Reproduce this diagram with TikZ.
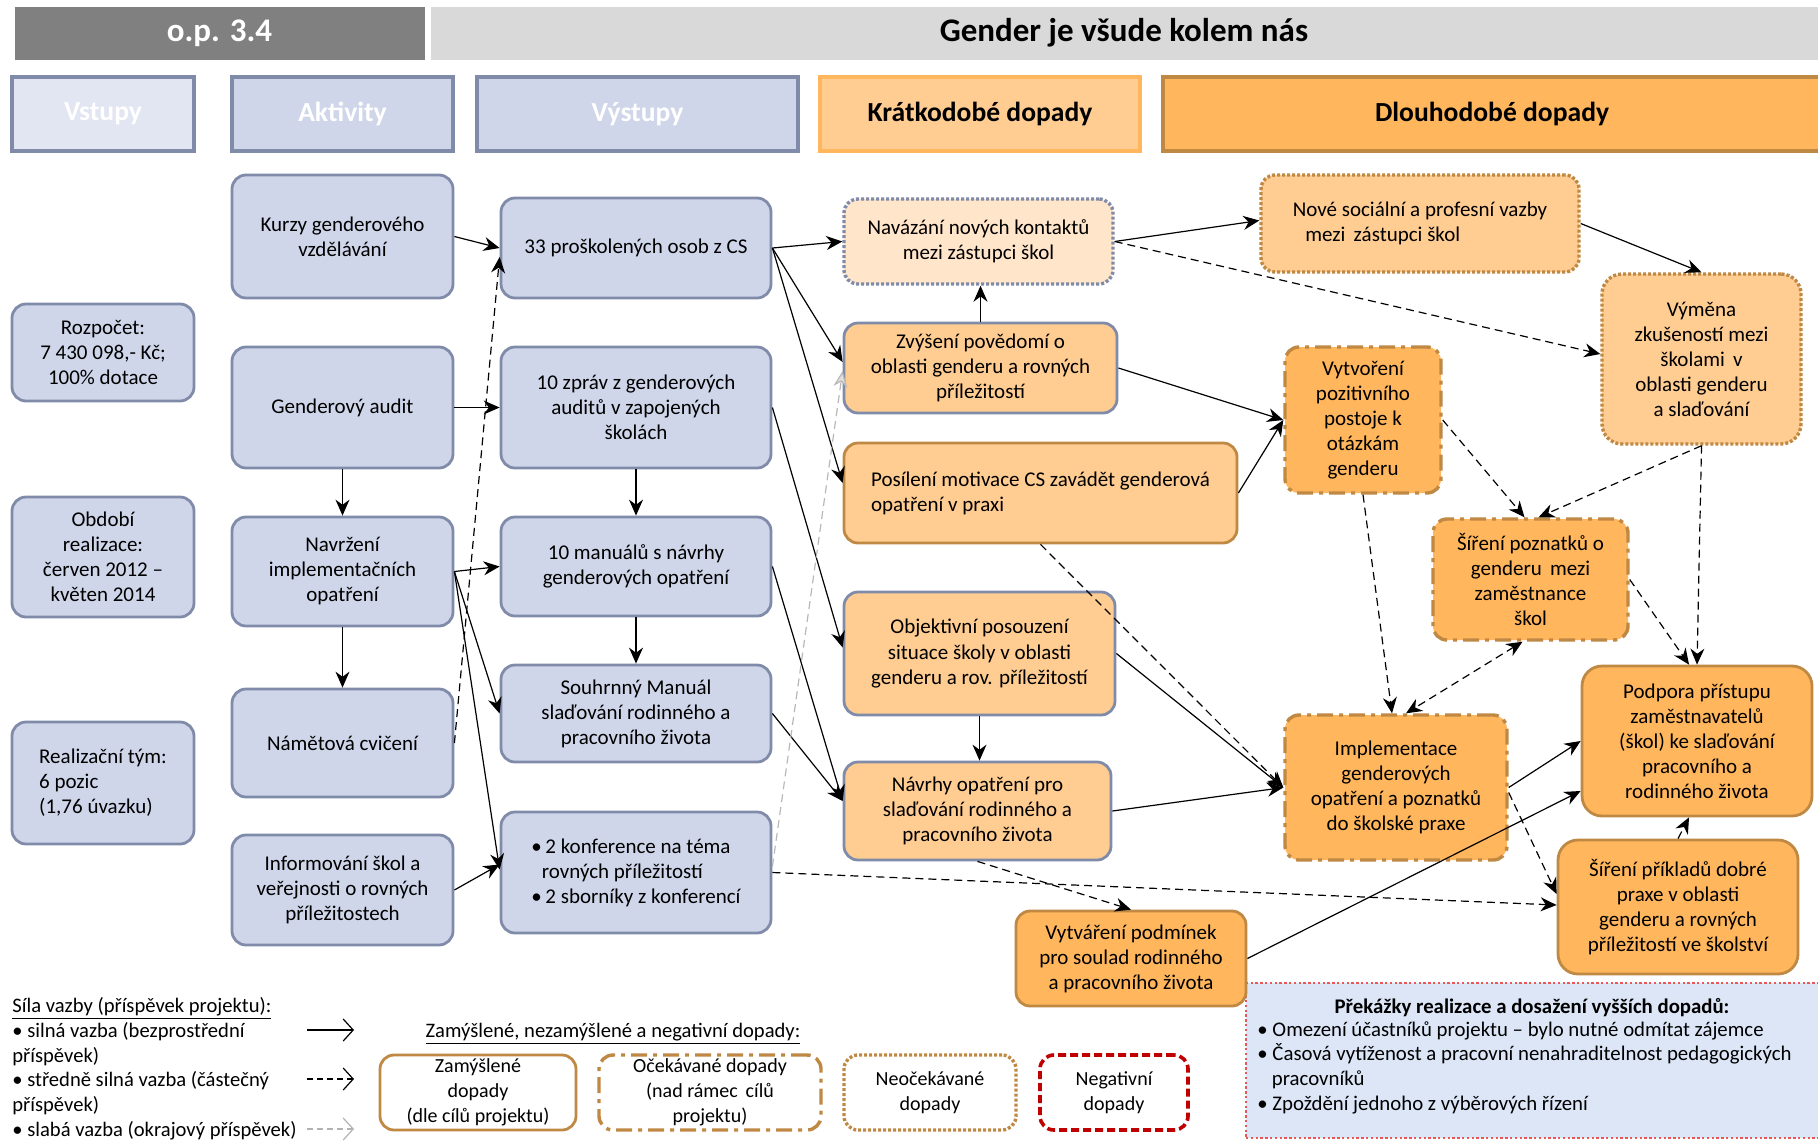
\documentclass[tikz,border=0pt]{standalone}
\usepackage{fontspec}
\setmainfont{Carlito}
\usetikzlibrary{arrows.meta,calc}

\definecolor{modrafill}{RGB}{208,214,234}
\definecolor{modrasvetla}{RGB}{226,230,243}
\definecolor{modraline}{RGB}{127,139,168}
\definecolor{oranzsvetla}{RGB}{255,204,146}
\definecolor{oranztmava}{RGB}{255,182,92}
\definecolor{oranzbleda}{RGB}{255,229,202}
\definecolor{hneda}{RGB}{191,137,68}
\definecolor{tmavasede}{RGB}{128,128,128}
\definecolor{svetlesede}{RGB}{217,217,217}
\definecolor{prekfill}{RGB}{220,230,247}
\definecolor{prekline}{RGB}{228,88,88}
\definecolor{negcervena}{RGB}{192,0,0}

\tikzset{
  rozmer/.style 2 args={minimum width=#1*0.5pt, minimum height=#2*0.5pt},
  hlava/.style={draw=white, line width=0.5pt, inner sep=0pt, font=\fontsize{16.5}{19}\selectfont\bfseries},
  sloupec/.style={draw, line width=1.6pt, inner sep=0pt, font=\fontsize{13.8}{16}\selectfont\bfseries},
  box/.style={draw, rounded corners=7pt, line width=1.4pt, align=center, inner sep=2pt,
    font=\fontsize{10.5}{12.5}\selectfont},
  modra/.style={box, fill=modrafill, draw=modraline},
  kratka/.style={box, fill=oranzsvetla, draw=modraline},
  zamysl/.style={box, draw=hneda},
  ocekav/.style={box, draw=hneda, line width=1.7pt, dash pattern=on 8pt off 3pt on 2pt off 3pt},
  neocek/.style={box, draw=hneda, line width=1.7pt, dash pattern=on 1.5pt off 1pt},
  silna/.style={-{Stealth[length=8pt,width=7pt]}, line width=0.6pt},
  stredni/.style={silna, dash pattern=on 4pt off 2.5pt},
  slaba/.style={stredni, draw=black!28, -{Stealth[length=8pt,width=7pt,fill=black!12]}},
  legsipka/.style={-{Straight Barb[length=5pt,width=11pt]}, line width=0.6pt},
  popis/.style={inner sep=0pt, align=left, font=\fontsize{10.3}{12.4}\selectfont}
}

\begin{document}
\begin{tikzpicture}[x=0.5pt,y=-0.5pt]
    \useasboundingbox (0,0) rectangle (1818,1141);
    % hlavicka
    \node[hlava, fill=tmavasede, text=white, rozmer={411}{54}] (op) at (219.5,33) {o.p. 3.4};
    \node[hlava, fill=svetlesede, rozmer={1388}{54}] (nazev) at (1124,33) {Gender je všude kolem nás};
    \node[sloupec, fill=modrasvetla, draw=modraline, text=white, rozmer={182}{74}] (vstupy) at (103,114) {Vstupy};
    \node[sloupec, fill=modrafill, draw=modraline, text=white, rozmer={221}{74}] (aktivity) at (342.5,114) {Aktivity};
    \node[sloupec, fill=modrafill, draw=modraline, text=white, rozmer={321}{74}] (vystupy) at (637.5,114) {Výstupy};
    \node[sloupec, fill=oranzsvetla, draw=oranztmava, rozmer={320}{74}] (kratko) at (980,114) {Krátkodobé dopady};
    \node[sloupec, fill=oranztmava, draw=hneda, rozmer={658}{74}] (dlouho) at (1492,114) {Dlouhodobé dopady};

    % vstupy
    \node[modra, rozmer={182}{97}] (rozpocet) at (103,352.5) {Rozpočet:\\7 430 098,- Kč;\\100\% dotace};
    \node[modra, rozmer={182}{120}] (obdobi) at (103,557) {Období\\realizace:\\červen 2012 –\\květen 2014};
    \node[modra, rozmer={182}{122}, align=left] (tym) at (103,783) {Realizační tým:\\6 pozic\\(1,76 úvazku)};

    % aktivity
    \node[modra, rozmer={221}{123}] (kurzy) at (342.5,236.5) {Kurzy genderového\\vzdělávání};
    \node[modra, rozmer={221}{121}] (audit) at (342.5,407.5) {Genderový audit};
    \node[modra, rozmer={221}{109}] (navrzeni) at (342.5,571.5) {Navržení\\implementačních\\opatření};
    \node[modra, rozmer={221}{108}] (namety) at (342.5,743) {Námětová cvičení};
    \node[modra, rozmer={221}{110}] (info) at (342.5,890) {Informování škol a\\veřejnosti o rovných\\příležitostech};

    % vystupy
    \node[modra, rozmer={270}{100}] (proskol) at (636,248) {33 proškolených osob z CS};
    \node[modra, rozmer={270}{121}] (zpravy) at (636,407.5) {10 zpráv z genderových\\auditů v zapojených\\školách};
    \node[modra, rozmer={270}{99}] (manualy) at (636,566.5) {10 manuálů s návrhy\\genderových opatření};
    \node[modra, rozmer={270}{97}] (souhrn) at (636,713.5) {Souhrnný Manuál\\slaďování rodinného a\\pracovního života};
    \node[modra, rozmer={270}{121}, align=left] (konf) at (636,872.5) {•\,2 konference na téma\\\hspace{0.5em}rovných příležitostí\\•\,2 sborníky z konferencí};

    % prekazky (pod ramecek vytvareni)
    \node[draw=prekline, fill=prekfill, line width=0.6pt, dash pattern=on 1.2pt off 1.2pt, rozmer={574}{155}, inner sep=0pt] (prekazky) at (1533,1060.5) {};
    \node[popis, font=\fontsize{10.4}{12.4}\selectfont\bfseries] (prektitul) at (1532,1008) {Překážky realizace a dosažení vyšších dopadů:};
    \node[popis, font=\fontsize{10.4}{12.4}\selectfont, anchor=north west] (prekseznam) at (1257,1021) {• Omezení účastníků projektu – bylo nutné odmítat zájemce\\• Časová vytíženost a pracovní nenahraditelnost pedagogických\\\hspace{0.7em}pracovníků\\• Zpoždění jednoho z výběrových řízení};

    % kratkodobe dopady
    \node[kratka, fill=oranzbleda, line width=1.7pt, dash pattern=on 1.5pt off 1pt, rozmer={269}{85}] (navazani) at (978.5,241.5) {Navázání nových kontaktů\\mezi zástupci škol};
    \node[kratka, rozmer={273}{90}] (zvyseni) at (980.5,368) {Zvýšení povědomí o\\oblasti genderu a rovných\\příležitostí};
    \node[zamysl, fill=oranzsvetla, rozmer={393}{100}, align=left] (posileni) at (1040.5,493) {Posílení motivace CS zavádět genderová\\opatření v praxi\hfill\phantom{x}};
    \node[kratka, rozmer={271}{123}] (objektivni) at (979.5,653.5) {Objektivní posouzení\\situace školy v oblasti\\genderu a rov. příležitostí};
    \node[kratka, rozmer={267}{98}] (navrhy) at (977.5,811) {Návrhy opatření pro\\slaďování rodinného a\\pracovního života};
    \node[zamysl, fill=oranztmava, rozmer={230}{95}] (vytvareni) at (1131,958.5) {Vytváření podmínek\\pro soulad rodinného\\a pracovního života};

    % dlouhodobe dopady
    \node[neocek, fill=oranzsvetla, rozmer={318}{97}, align=left] (nove) at (1420,223.5) {Nové sociální a profesní vazby\\\hspace{0.6em}mezi\, zástupci škol};
    \node[neocek, fill=oranzsvetla, rounded corners=10pt, rozmer={199}{170}] (vymena) at (1701.5,359) {Výměna\\zkušeností mezi\\školami\, v\\oblasti genderu\\a slaďování};
    \node[ocekav, fill=oranztmava, rozmer={156}{146}] (pozitiv) at (1363,420) {Vytvoření\\pozitivního\\postoje k\\otázkám\\genderu};
    \node[ocekav, fill=oranztmava, rozmer={195}{121}] (sireni) at (1530.5,579.5) {Šíření poznatků o\\genderu\, mezi\\zaměstnance\\škol};
    \node[ocekav, fill=oranztmava, rozmer={222}{145}] (implem) at (1396,787.5) {Implementace\\genderových\\opatření a poznatků\\do školské praxe};
    \node[zamysl, fill=oranztmava, rounded corners=10pt, rozmer={230}{150}] (podpora) at (1697,741) {Podpora přístupu\\zaměstnavatelů\\(škol) ke slaďování\\pracovního a\\rodinného života};
    \node[zamysl, fill=oranztmava, rounded corners=10pt, rozmer={240}{134}] (priklady) at (1678,907) {Šíření příkladů dobré\\praxe v oblasti\\genderu a rovných\\příležitostí ve školství};

    % aktivity -> vystupy
    \draw[silna] (kurzy.east) -- (proskol.west);
    \draw[silna] (audit.east) -- (zpravy.west);
    \draw[silna] (audit) -- (navrzeni);
    \draw[silna] (navrzeni) -- (namety);
    \draw[silna] (zpravy) -- (manualy);
    \draw[silna] (manualy) -- (souhrn);
    \draw[silna] (navrzeni.east) -- (manualy.west);
    \draw[silna] (navrzeni.east) -- (souhrn.west);
    \draw[silna] (navrzeni.east) -- ($(konf.west)+(0,-3)$);
    \draw[silna] (info.east) -- ($(konf.west)+(0,-8)$);
    \draw[stredni] (namety.east) -- ($(proskol.west)+(0,9)$);

    % vystupy -> kratkodobe dopady
    \draw[silna] (proskol.east) -- (navazani.west);
    \draw[silna] (proskol.east) -- ($(zvyseni.west)+(0,-6)$);
    \draw[silna] (proskol.east) -- ($(posileni.west)+(0,-10)$);
    \draw[silna] (zpravy.east) -- ($(objektivni.west)+(0,-6)$);
    \draw[silna] (manualy.east) -- ($(navrhy.west)+(0,-10)$);
    \draw[silna] (souhrn.east) -- ($(navrhy.west)+(0,-10)$);
    \draw[slaba] ($(konf.east)+(0,-6)$) -- ($(zvyseni.west)+(0,3)$);
    \draw[stredni] (konf.east) -- ($(priklady.west)+(0,-2)$);
    \draw[silna] (zvyseni.north) -- (zvyseni.north |- navazani.south);
    \draw[silna] (objektivni.south) -- (objektivni.south |- navrhy.north);
    \draw[stredni] (navrhy.south) -- (vytvareni.north);

    % kratkodobe -> dlouhodobe dopady
    \draw[silna] (navazani.east) -- ($(nove.west)+(0,-3)$);
    \draw[stredni] (navazani.east) -- ($(vymena.west)+(0,-5)$);
    \draw[silna] (nove.east) -- (vymena.north);
    \draw[silna] (zvyseni.east) -- (pozitiv.west);
    \draw[silna] (posileni.east) -- (pozitiv.west);
    \draw[stredni] (posileni.south) -- (implem.west);
    \draw[silna] (objektivni.east) -- (implem.west);
    \draw[silna] (navrhy.east) -- (implem.west);
    \draw[silna] (vytvareni.east) -- ($(podpora.west)+(0,50)$);
    \draw[silna] (implem.east) -- (podpora.west);
    \draw[stredni] (pozitiv.east) -- ($(sireni.north)+(-6,0)$);
    \draw[stredni] (vymena.south) -- ($(sireni.north)+(8,0)$);
    \draw[stredni] (vymena.south) -- (podpora.north);
    \draw[stredni] (sireni.east) -- ($(podpora.north)+(-8,0)$);
    \draw[stredni] (pozitiv.south) -- ($(implem.north)+(-4,0)$);
    \draw[stredni, {Stealth[length=8pt,width=7pt]}-{Stealth[length=8pt,width=7pt]}] ($(sireni.south)+(-8,0)$) -- ($(implem.north)+(10,0)$);
    \draw[stredni] ($(implem.east)+(0,5)$) -- ($(priklady.west)+(0,-13)$);
    \draw[stredni] (priklady.north) -- ($(podpora.south)+(-8,0)$);

    % legenda - sila vazby
    \node[popis, anchor=north west] (silalegenda) at (12,997) {\underline{Síla vazby (příspěvek projektu):}\\• silná vazba (bezprostřední\\příspěvek)\\• středně silná vazba (částečný\\příspěvek)\\• slabá vazba (okrajový příspěvek)};
    \coordinate (s1) at (307,1030); \coordinate (s2) at (354,1030);
    \coordinate (m1) at (307,1079); \coordinate (m2) at (354,1079);
    \coordinate (w1) at (307,1129); \coordinate (w2) at (354,1129);
    \draw[legsipka] (s1) -- (s2);
    \draw[legsipka, dash pattern=on 3pt off 2pt] (m1) -- (m2);
    \draw[legsipka, draw=black!30, dash pattern=on 3pt off 2pt] (w1) -- (w2);

    % legenda - typy dopadu
    \node[popis] (typlegenda) at (613,1034) {\underline{Zamýšlené, nezamýšlené a negativní dopady:}};
    \node[zamysl, inner sep=0pt, font=\fontsize{10}{12.4}\selectfont, rozmer={196}{75}] (legzam) at (478,1092.5) {Zamýšlené\\dopady\\(dle cílů projektu)};
    \node[ocekav, inner sep=0pt, font=\fontsize{10}{12.4}\selectfont, rozmer={222}{75}] (legocek) at (710,1092.5) {Očekávané dopady\\(nad rámec\, cílů\\projektu)};
    \node[neocek, inner sep=0pt, font=\fontsize{10}{12.4}\selectfont, rozmer={172}{75}] (legneocek) at (930,1092.5) {Neočekávané\\dopady};
    \node[box, draw=negcervena, line width=1.8pt, dash pattern=on 4pt off 2pt, inner sep=0pt, font=\fontsize{10}{12.4}\selectfont, rozmer={148}{75}] (legneg) at (1114,1092.5) {Negativní\\dopady};
\end{tikzpicture}
\end{document}
